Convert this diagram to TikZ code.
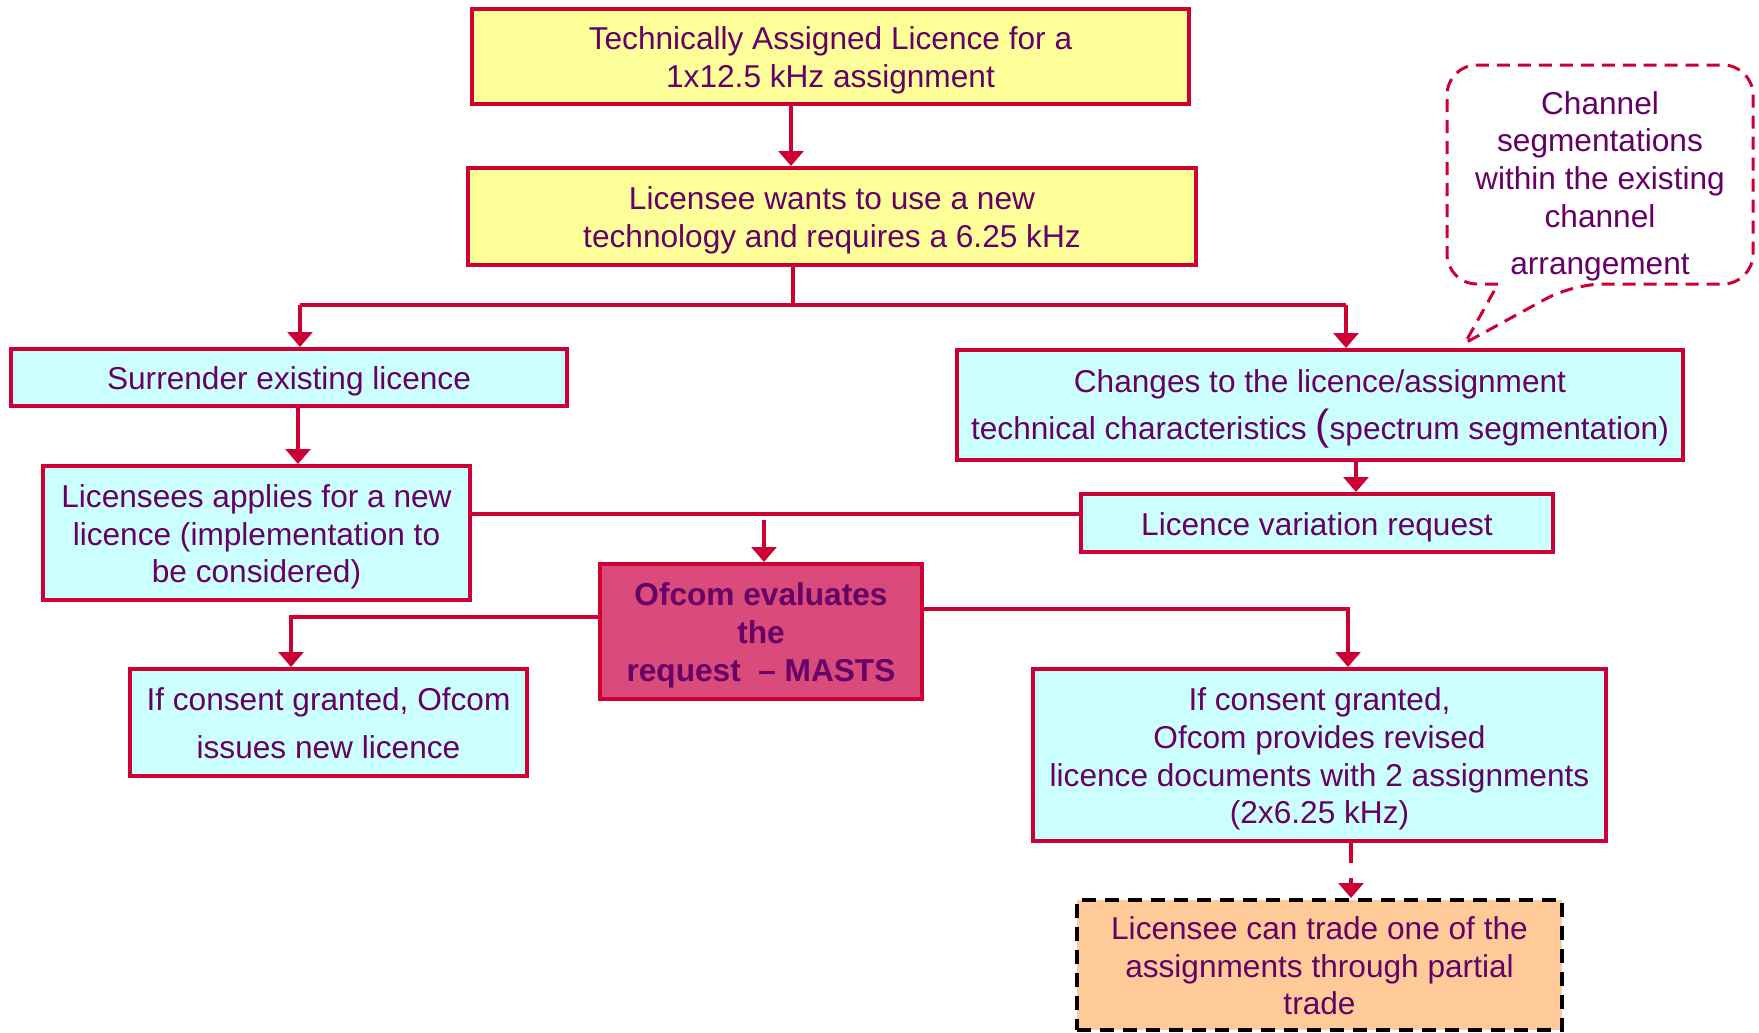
\documentclass[tikz,border=0pt]{standalone}
\usepackage{fontspec}
\setmainfont{Liberation Sans}
\usetikzlibrary{arrows.meta}

\definecolor{boxred}{HTML}{CC0033}
\definecolor{txtpurple}{HTML}{660066}
\definecolor{boxyellow}{HTML}{FFFF99}
\definecolor{boxcyan}{HTML}{CCFFFF}
\definecolor{boxpink}{HTML}{DA4A7A}
\definecolor{boxorange}{HTML}{FFCC99}

% fixed ascent for the first line of a box
\newcommand{\capstrut}{\rule{0pt}{17.5pt}}

\tikzset{
  box/.style={draw=boxred, line width=0.08cm, text=txtpurple, align=center,
    inner sep=1pt, font=\fontsize{18}{21.6}\selectfont,
    execute at end node={\rule[-3.8pt]{0pt}{3.8pt}}},
  yellowbox/.style={box, fill=boxyellow},
  cyanbox/.style={box, fill=boxcyan},
  link/.style={draw=boxred, line width=0.08cm},
  arr/.style={link, -{Triangle[width=14pt,length=8.5pt]}}
}

\begin{document}
\begin{tikzpicture}[x=0.02cm,y=-0.02cm]
      \useasboundingbox (0,0) rectangle (1759,1032);
      \node [yellowbox, minimum width=14.34cm, minimum height=1.90cm] (assigned) at (830.5,56.5)
        {\capstrut Technically Assigned Licence for a\\1x12.5 kHz assignment};
      \node [yellowbox, minimum width=14.56cm, minimum height=1.94cm] (newtech) at (832,216.5)
        {\capstrut Licensee wants to use a new\\technology and requires a 6.25 kHz};
      \node [cyanbox, minimum width=11.12cm, minimum height=1.14cm] (surrender) at (289,377.5)
        {\capstrut Surrender existing licence};
      \node [cyanbox, minimum width=8.54cm, minimum height=2.68cm] (apply) at (256.5,533)
        {\capstrut Licensees applies for a new\\licence (implementation to\\be considered)};
      \node [cyanbox, minimum width=14.52cm, minimum height=2.20cm] (changes) at (1320,405)
        {\capstrut Changes to the licence/assignment\\[0.2cm]technical characteristics {\fontsize{24}{24}\selectfont(}spectrum segmentation)};
      \node [cyanbox, minimum width=9.44cm, minimum height=1.16cm] (variation) at (1317,523)
        {\capstrut Licence variation request};
      \node [box, fill=boxpink, font=\fontsize{18}{21.6}\selectfont\bfseries,
        minimum width=6.44cm, minimum height=2.70cm] (evaluate) at (761,631.5)
        {\capstrut Ofcom evaluates\\the\\request~~– MASTS};
      \node [cyanbox, minimum width=7.94cm, minimum height=2.14cm] (newlic) at (328.5,722.5)
        {\capstrut If consent granted, Ofcom\\[0.2cm]issues new licence};
      \node [cyanbox, minimum width=11.46cm, minimum height=3.44cm] (revised) at (1319.5,755)
        {\capstrut If consent granted,\\Ofcom provides revised\\licence documents with 2 assignments\\(2x6.25 kHz)};
      \node [box, fill=boxorange, draw=black, dash pattern=on 0.28cm off 0.18cm,
        minimum width=9.70cm, minimum height=2.60cm] (trade) at (1319.5,965)
        {\capstrut Licensee can trade one of the\\assignments through partial\\trade};
      % callout
      \node [text=txtpurple, align=center, font=\fontsize{18}{21.6}\selectfont] (segment) at (1600,186)
        {Channel\\segmentations\\within the existing\\channel\\[0.17cm]arrangement};
      \coordinate (tip) at (1465,343);
      \draw [draw=boxred, line width=0.06cm, dash pattern=on 0.26cm off 0.16cm]
        (1498,284) [rounded corners=0.6cm] -- (1447,284) -- (1447,65) -- (1753,65)
        -- (1753,284) -- (1573,284) [sharp corners] -- (tip) -- (1498,284);
      % routing points
      \coordinate (c1) at (791,0);
      \coordinate (fork) at (793,305);
      \coordinate (forkL) at (300,305);
      \coordinate (forkR) at (1346,305);
      \coordinate (c2) at (298,0);
      \coordinate (c3) at (1356,0);
      \coordinate (merge) at (764,514);
      \coordinate (c5) at (764,520);
      \coordinate (c6) at (291,617);
      \coordinate (c7) at (1348,609);
      \coordinate (c8) at (1351,0);
      \draw [arr] (assigned.south -| c1) -- (newtech.north -| c1);
      \draw [link] (newtech.south -| fork) -- (fork);
      \draw [link] (forkL) -- (forkR);
      \draw [arr] (forkL) -- (surrender.north -| forkL);
      \draw [arr] (forkR) -- (changes.north -| forkR);
      \draw [arr] (surrender.south -| c2) -- (apply.north -| c2);
      \draw [arr] (changes.south -| c3) -- (variation.north -| c3);
      \draw [link] (apply.east |- merge) -- (variation.west |- merge);
      \draw [arr] (c5) -- (evaluate.north -| c5);
      \draw [arr] (evaluate.west |- c6) -| (newlic.north -| c6);
      \draw [arr] (evaluate.east |- c7) -| (revised.north -| c7);
      \draw [arr, dash pattern=on 0.4cm off 0.3cm] (revised.south -| c8) -- (trade.north -| c8);
    \end{tikzpicture}
\end{document}
